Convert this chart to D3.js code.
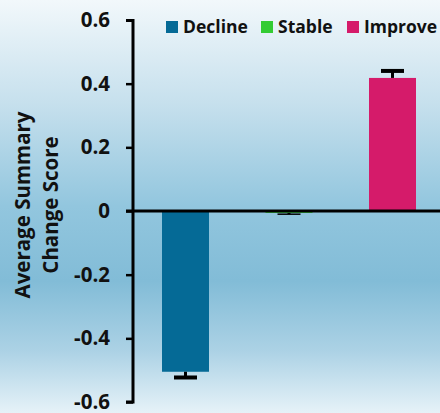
<!DOCTYPE html>
<html><head><meta charset="utf-8">
<script src="https://cdn.jsdelivr.net/npm/d3@7"></script>
<style>body{margin:0;padding:0;overflow:hidden}svg{display:block}</style>
</head><body>
<script>
const categories = ["Decline", "Stable", "Improve"];
const values = [-0.505, -0.006, 0.418];
const errors = [0.018, 0.004, 0.022];
const colors = ["#056a96", "#33cc33", "#d51b6a"];
const yTicks = [-0.6, -0.4, -0.2, 0, 0.2, 0.4, 0.6];
const yTickLabels = ["-0.6", "-0.4", "-0.2", "0", "0.2", "0.4", "0.6"];
const yTitle = ["Average Summary", "Change Score"];

const W = 440, H = 413;
const svg = d3.select("body").append("svg").attr("width", W).attr("height", H);
const defs = svg.append("defs");
const grad = defs.append("linearGradient").attr("id", "bg").attr("x1", 0).attr("x2", 0).attr("y1", 0).attr("y2", 1);
[[0, "#f2f8fb"], [0.25, "#c6e0ed"], [0.5, "#92c6de"], [0.68, "#82bcd7"], [0.85, "#acd2e5"], [1, "#e6f2f8"]]
  .forEach(([o, c]) => grad.append("stop").attr("offset", o).attr("stop-color", c));
svg.append("rect").attr("width", W).attr("height", H).attr("fill", "url(#bg)");

const font = "'Open Sans', sans-serif";
const y = d3.scaleLinear().domain([-0.6, 0.6]).range([402, 20]);
const x = d3.scaleBand().domain(categories).range([133.75, 444.25]).paddingInner(0.546).paddingOuter(0.273);

// bars
categories.forEach((c, i) => {
  const v = values[i];
  svg.append("rect")
    .attr("x", x(c)).attr("width", x.bandwidth())
    .attr("y", Math.min(y(v), y(0))).attr("height", Math.abs(y(v) - y(0)))
    .attr("fill", colors[i]);
  const cx = x(c) + x.bandwidth() / 2;
  const end = v + Math.sign(v) * errors[i];
  svg.append("line").attr("x1", cx).attr("x2", cx).attr("y1", y(v)).attr("y2", y(end))
    .attr("stroke", "#000").attr("stroke-width", 3);
  svg.append("line").attr("x1", cx - 11.5).attr("x2", cx + 11.5).attr("y1", y(end)).attr("y2", y(end))
    .attr("stroke", "#000").attr("stroke-width", i === 1 ? 1.5 : 4);
});

// zero line
svg.append("line").attr("x1", 126).attr("x2", W).attr("y1", y(0)).attr("y2", y(0))
  .attr("stroke", "#000").attr("stroke-width", 3);

// y axis
const axis = d3.axisLeft(y).tickValues(yTicks).tickFormat((d, i) => yTickLabels[i]).tickSize(7).tickPadding(16);
const ag = svg.append("g").attr("transform", "translate(133,0)").call(axis);
ag.select(".domain").attr("stroke", "#000").attr("stroke-width", 3).attr("d", "M-7,20.5H0V402H-7");
ag.selectAll(".tick line").attr("stroke", "#000").attr("stroke-width", 2.5);
ag.selectAll(".tick text").attr("font-family", font).attr("font-weight", "bold").attr("font-size", 20.5).attr("fill", "#111");

// y title
const tg = svg.append("g").attr("transform", "translate(0,205) rotate(-90)");
tg.append("text").attr("x", 0).attr("y", 30).attr("text-anchor", "middle")
  .attr("font-family", font).attr("font-weight", "bold").attr("font-size", 20.5).attr("fill", "#111").text(yTitle[0]);
tg.append("text").attr("x", 0).attr("y", 58).attr("text-anchor", "middle")
  .attr("font-family", font).attr("font-weight", "bold").attr("font-size", 20.5).attr("fill", "#111").text(yTitle[1]);

// legend
const legX = [166, 261, 347];
categories.forEach((c, i) => {
  svg.append("rect").attr("x", legX[i]).attr("y", 21).attr("width", 12).attr("height", 12).attr("fill", colors[i]);
  svg.append("text").attr("x", legX[i] + 17).attr("y", 33)
    .attr("font-family", font).attr("font-weight", "bold").attr("font-size", 17.5).attr("fill", "#111").text(c);
});
</script>
</body></html>
